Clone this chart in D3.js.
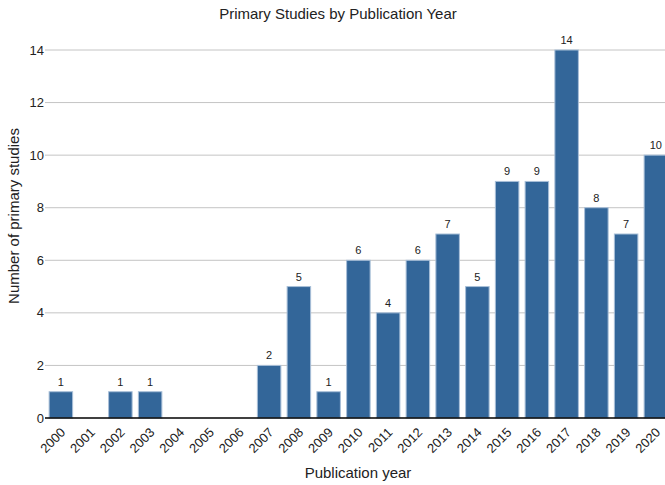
<!DOCTYPE html>
<html><head><meta charset="utf-8">
<script src="https://cdn.jsdelivr.net/npm/d3@7"></script>
<style>body{margin:0;background:#fff}svg{display:block;font-family:"Liberation Sans",Arial,sans-serif}</style>
</head><body><svg id="c" width="665" height="485"></svg>
<script>
const years = ["2000","2001","2002","2003","2004","2005","2006","2007","2008","2009","2010","2011","2012","2013","2014","2015","2016","2017","2018","2019","2020"];
const counts = [1,0,1,1,0,0,0,2,5,1,6,4,6,7,5,9,9,14,8,7,10];
const yTicks = [0,2,4,6,8,10,12,14];

const svg = d3.select("#c");
const x = d3.scaleBand().domain(years).range([46, 670.75]).paddingInner(0.21).paddingOuter(0.105);
const y = d3.scaleLinear().domain([0,14]).range([418, 50]);

// gridlines
svg.append("g").selectAll("line").data(yTicks.filter(d=>d>0)).join("line")
  .attr("x1", 45).attr("x2", 665).attr("y1", d=>y(d)).attr("y2", d=>y(d))
  .attr("stroke", "#c4c4c4").attr("stroke-width", 1);

// y tick labels
svg.append("g").selectAll("text").data(yTicks).join("text")
  .attr("x", 44).attr("y", d=>y(d)).attr("dy","0.35em")
  .attr("text-anchor","end").attr("font-size", 13).attr("fill","#222")
  .text(d=>d);

// bars
svg.append("g").selectAll("rect").data(years).join("rect")
  .attr("x", (d)=>x(d)).attr("width", x.bandwidth())
  .attr("y", (d,i)=>y(counts[i])).attr("height", (d,i)=>y(0)-y(counts[i]))
  .attr("fill", "#336699").attr("stroke", "#a8bfd8").attr("stroke-width", 1);

// value labels
svg.append("g").selectAll("text").data(years.filter((d,i)=>counts[i]>0)).join("text")
  .attr("x", d=>x(d)+x.bandwidth()/2).attr("y", d=>y(counts[years.indexOf(d)])-6)
  .attr("text-anchor","middle").attr("font-size", 11).attr("fill","#222")
  .text(d=>counts[years.indexOf(d)]);

// baseline
svg.append("line").attr("x1",45).attr("x2",665).attr("y1",y(0)).attr("y2",y(0))
  .attr("stroke","#000").attr("stroke-width",1.5);

// x tick labels
svg.append("g").selectAll("text").data(years).join("text")
  .attr("transform", d=>`translate(${x(d)+x.bandwidth()/2+2},${y(0)+12}) rotate(-45)`)
  .attr("text-anchor","end").attr("dy","0.35em").attr("font-size", 13).attr("fill","#222")
  .text(d=>d);

// titles
svg.append("text").attr("x", 338).attr("y", 19).attr("text-anchor","middle")
  .attr("font-size", 15).attr("fill","#222").text("Primary Studies by Publication Year");
svg.append("text").attr("x", 358).attr("y", 478).attr("text-anchor","middle")
  .attr("font-size", 15).attr("fill","#222").text("Publication year");
svg.append("text").attr("transform","translate(19,216) rotate(-90)").attr("text-anchor","middle")
  .attr("font-size", 15).attr("fill","#222").text("Number of primary studies");
</script></body></html>
